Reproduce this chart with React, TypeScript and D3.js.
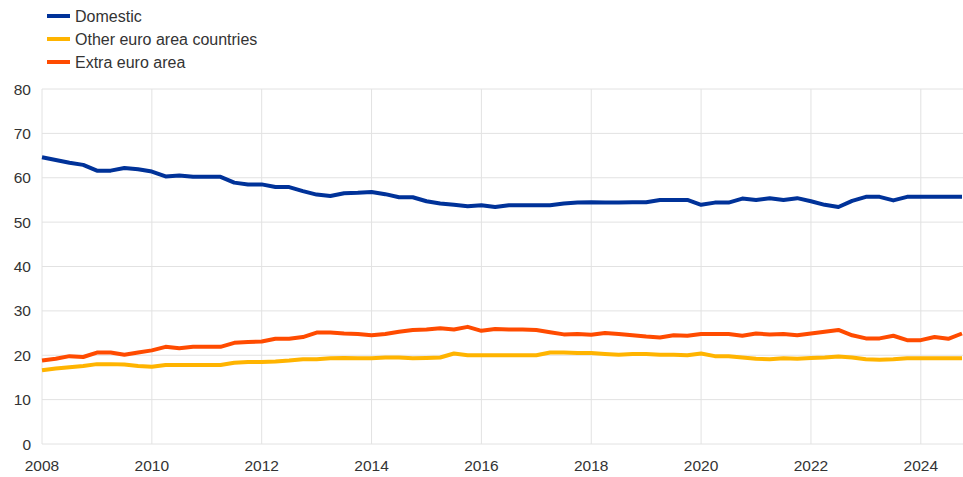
import React from "react";
import * as d3 from "d3";

const startYear = 2008;
const domestic = [
  64.6, 64.0, 63.4, 62.9, 61.6, 61.6, 62.2, 61.9, 61.4, 60.3, 60.5, 60.2,
  60.2, 60.2, 58.9, 58.5, 58.5, 57.9, 57.9, 57.0, 56.2, 55.9, 56.5, 56.6,
  56.8, 56.3, 55.6, 55.6, 54.7, 54.2, 53.9, 53.6, 53.8, 53.4, 53.8, 53.8,
  53.8, 53.8, 54.2, 54.4, 54.5, 54.4, 54.4, 54.5, 54.5, 55.0, 55.0, 55.0,
  53.9, 54.4, 54.4, 55.3, 55.0, 55.4, 55.0, 55.4, 54.7, 53.9, 53.4, 54.8,
  55.7, 55.7, 54.9, 55.7, 55.7, 55.7, 55.7, 55.7,
];
const otherEuro = [
  16.6, 17.0, 17.3, 17.6, 18.0, 18.0, 17.9, 17.6, 17.4, 17.8, 17.8, 17.8,
  17.8, 17.8, 18.3, 18.5, 18.5, 18.6, 18.8, 19.1, 19.1, 19.3, 19.4, 19.3,
  19.3, 19.5, 19.5, 19.3, 19.4, 19.5, 20.4, 20.0, 20.0, 20.0, 20.0, 20.0,
  20.0, 20.6, 20.6, 20.5, 20.5, 20.3, 20.1, 20.3, 20.3, 20.1, 20.1, 20.0,
  20.4, 19.8, 19.8, 19.5, 19.2, 19.1, 19.3, 19.2, 19.4, 19.5, 19.7, 19.5,
  19.1, 19.0, 19.1, 19.3, 19.3, 19.3, 19.3, 19.3,
];
const extraEuro = [
  18.8, 19.2, 19.8, 19.6, 20.6, 20.6, 20.1, 20.6, 21.1, 21.9, 21.6, 21.9,
  21.9, 21.9, 22.8, 23.0, 23.1, 23.7, 23.7, 24.1, 25.1, 25.1, 24.9, 24.8,
  24.5, 24.8, 25.3, 25.7, 25.8, 26.1, 25.8, 26.4, 25.5, 25.9, 25.8, 25.8,
  25.7, 25.2, 24.7, 24.8, 24.6, 25.0, 24.8, 24.5, 24.2, 24.0, 24.5, 24.4,
  24.8, 24.8, 24.8, 24.4, 24.9, 24.7, 24.8, 24.5, 24.9, 25.3, 25.7, 24.5,
  23.8, 23.8, 24.4, 23.4, 23.4, 24.1, 23.7, 24.9,
];
const seriesNames = ["Domestic", "Other euro area countries", "Extra euro area"];
const seriesColors = ["#003299", "#FFB400", "#FF4B00"];
const yTicks = [0, 10, 20, 30, 40, 50, 60, 70, 80];
const xTicks = [2008, 2010, 2012, 2014, 2016, 2018, 2020, 2022, 2024];

export default function App() {
  const W = 963, H = 477;
  const left = 42, right = 963, top = 89, bottom = 444;
  const x = d3.scaleLinear().domain([2008, 2024.75]).range([left, 962]);
  const y = d3.scaleLinear().domain([0, 80]).range([bottom, top]);
  const all = [domestic, otherEuro, extraEuro];
  const line = d3
    .line<number>()
    .x((_, i) => x(startYear + i * 0.25))
    .y((d) => y(d));
  const font = "'Liberation Sans', Arial, sans-serif";
  const order = [1, 2, 0];
  return (
    <svg
      width={W}
      height={H}
      style={{ position: "absolute", left: 0, top: 0, background: "#fff" }}
      fontFamily={font}
    >
      {yTicks.map((t) => (
        <line key={"gy" + t} x1={left} x2={right} y1={y(t)} y2={y(t)} stroke="#e2e2e2" strokeWidth={1} />
      ))}
      {xTicks.map((t) => (
        <line key={"gx" + t} x1={x(t)} x2={x(t)} y1={top} y2={bottom} stroke="#e2e2e2" strokeWidth={1} />
      ))}
      {yTicks.map((t) => (
        <text key={"ly" + t} x={31} y={y(t)} dy="0.36em" textAnchor="end" fontSize={15.5} fill="#333">
          {t}
        </text>
      ))}
      {xTicks.map((t) => (
        <text key={"lx" + t} x={x(t)} y={471} textAnchor="middle" fontSize={15.5} fill="#333">
          {t}
        </text>
      ))}
      {order.map((k) => (
        <path
          key={"s" + k}
          d={line(all[k]) || ""}
          fill="none"
          stroke={seriesColors[k]}
          strokeWidth={4}
          strokeLinejoin="round"
        />
      ))}
      {seriesNames.map((n, i) => (
        <g key={"lg" + i}>
          <line x1={47} x2={70} y1={16 + i * 23} y2={16 + i * 23} stroke={seriesColors[i]} strokeWidth={4} />
          <text x={75} y={16 + i * 23} dy="0.36em" fontSize={16} fill="#333">
            {n}
          </text>
        </g>
      ))}
    </svg>
  );
}
